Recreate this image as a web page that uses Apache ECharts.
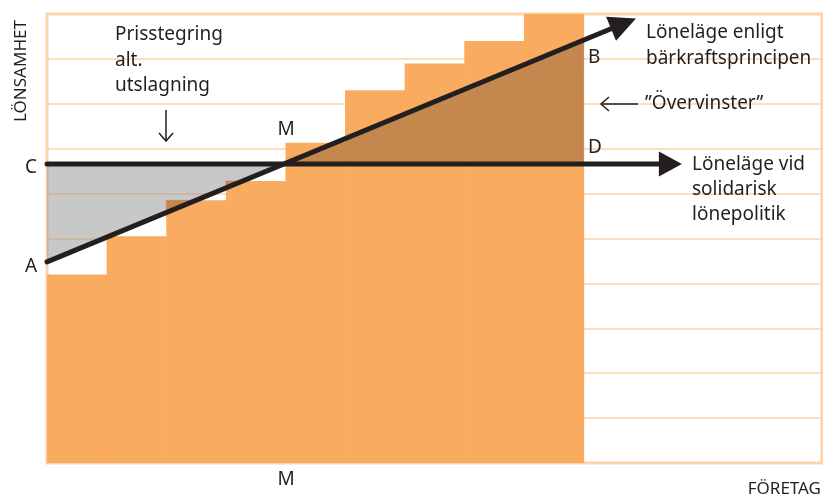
<!DOCTYPE html>
<html>
<head>
<meta charset="utf-8">
<script src="https://cdn.jsdelivr.net/npm/echarts@6/dist/echarts.min.js"></script>
<style>html,body{margin:0;padding:0;background:#fff}#c{width:823px;height:497px}</style>
</head>
<body>
<div id="c"></div>
<script>
// ---- data ----
const companies = [1, 2, 3, 4, 5, 6, 7, 8, 9];
const barHeights = [4.2, 5.05, 5.85, 6.28, 7.13, 8.3, 8.9, 9.4, 10];
const solidarLine = [[0, 6.66], [10.65, 6.66]];     // Löneläge vid solidarisk lönepolitik
const capacityLine = [[0, 4.48], [9.88, 9.9]];      // Löneläge enligt bärkraftsprincipen
const yTicks = [0, 1, 2, 3, 4, 5, 6, 7, 8, 9, 10];

const ORANGE = '#f9ab5f', BROWN = '#c4874e', GRID = '#fdd3aa', INK = '#231f20';
const FONT = 'Noto Sans';

function capAt(x) {
  const [a, b] = capacityLine;
  return a[1] + (b[1] - a[1]) * (x - a[0]) / (b[0] - a[0]);
}
const xM = (solidarLine[0][1] - capacityLine[0][1]) /
  ((capacityLine[1][1] - capacityLine[0][1]) / (capacityLine[1][0] - capacityLine[0][0]));
const lastX = companies.length;
const triangles = [
  [[0, solidarLine[0][1]], [xM, solidarLine[0][1]], [0, capAt(0)]],
  [[xM, solidarLine[0][1]], [lastX, solidarLine[0][1]], [lastX, capAt(lastX)]]
];

function clip(poly, axis, val, keepGreater) {
  const out = [];
  const inside = p => keepGreater ? p[axis] >= val - 1e-9 : p[axis] <= val + 1e-9;
  for (let i = 0; i < poly.length; i++) {
    const a = poly[i], b = poly[(i + 1) % poly.length];
    const ai = inside(a), bi = inside(b);
    if (ai) out.push(a);
    if (ai !== bi) {
      const t = (val - a[axis]) / (b[axis] - a[axis]);
      out.push([a[0] + t * (b[0] - a[0]), a[1] + t * (b[1] - a[1])]);
    }
  }
  return out;
}

const chart = echarts.init(document.getElementById('c'), null, { renderer: 'canvas' });

function arrowLine(api, p0, p1, width, headLen, headHalf) {
  const a = api.coord(p0), b = api.coord(p1);
  const dx = b[0] - a[0], dy = b[1] - a[1];
  const len = Math.sqrt(dx * dx + dy * dy);
  const ux = dx / len, uy = dy / len;
  const bx = b[0] - ux * headLen, by = b[1] - uy * headLen;
  const nx = -uy, ny = ux;
  return [
    { type: 'line', shape: { x1: a[0], y1: a[1], x2: bx + ux * 2, y2: by + uy * 2 },
      style: { stroke: INK, lineWidth: width, lineCap: 'round' } },
    { type: 'polygon', shape: { points: [b, [bx + nx * headHalf, by + ny * headHalf], [bx - nx * headHalf, by - ny * headHalf]] },
      style: { fill: INK } }
  ];
}

const txt = (text, x, y, extra) => Object.assign({
  type: 'text', x: x, y: y, z: 100,
  style: Object.assign({ text: text, fill: INK, font: '19px "' + FONT + '"', textVerticalAlign: 'middle' }, extra || {})
});

const option = {
  animation: false,
  grid: { left: 47, right: 1, top: 14, bottom: 34, show: true, borderColor: GRID, borderWidth: 3, backgroundColor: '#fff' },
  xAxis: { type: 'value', min: 0, max: 13, show: false },
  yAxis: {
    type: 'value', min: yTicks[0], max: yTicks[yTicks.length - 1], interval: 1,
    axisLine: { show: false }, axisTick: { show: false }, axisLabel: { show: false },
    splitLine: { show: true, lineStyle: { color: GRID, width: 1.5 } }
  },
  series: [
    { // grey area between the two wage lines
      type: 'custom', data: [0], z: 2,
      renderItem: (p, api) => ({
        type: 'group',
        children: triangles.map(t => ({ type: 'polygon', shape: { points: t.map(q => api.coord(q)) },
          style: { fill: 'rgba(145,145,145,0.5)' } }))
      })
    },
    { // companies (staircase)
      type: 'custom', z: 3,
      data: barHeights.map((h, i) => [i, h]),
      renderItem: (p, api) => {
        const i = api.value(0), h = api.value(1);
        const a = api.coord([i, h]), b = api.coord([i + 1, 0]);
        return { type: 'rect', shape: { x: a[0], y: a[1], width: b[0] - a[0] + 0.6, height: b[1] - a[1] },
          style: { fill: ORANGE } };
      }
    },
    { // brown: bar area between the two lines
      type: 'custom', z: 4,
      data: barHeights.map((h, i) => [i, h]),
      renderItem: (p, api) => {
        const i = api.value(0), h = api.value(1);
        const children = [];
        triangles.forEach(t => {
          let poly = clip(t, 0, i, true);
          poly = clip(poly, 0, i + 1, false);
          poly = clip(poly, 1, h, false);
          if (poly.length >= 3) children.push({ type: 'polygon', shape: { points: poly.map(q => api.coord(q)) },
            style: { fill: BROWN, stroke: BROWN, lineWidth: 0.5 } });
        });
        return { type: 'group', children: children };
      }
    },
    { // wage lines with arrows
      type: 'custom', z: 5,
      data: [0, 1],
      renderItem: (p, api) => {
        const i = api.value(0);
        const l = i === 0 ? solidarLine : capacityLine;
        const head = i === 0 ? [23, 12.5] : [27, 13];
        return { type: 'group', children: arrowLine(api, l[0], l[1], 5, head[0], head[1]) };
      }
    }
  ],
  graphic: [
    txt('LÖNSAMHET', 21, 122, { textAlign: 'left', font: '17px "' + FONT + '"' }),
    txt('FÖRETAG', 821, 489, { textAlign: 'right', font: '17px "' + FONT + '"' }),
    txt('M', 286, 480, { textAlign: 'center' }),
    txt('M', 286, 130, { textAlign: 'center' }),
    txt('C', 31, 168, { textAlign: 'center' }),
    txt('A', 31, 267, { textAlign: 'center' }),
    txt('B', 588, 58, { textAlign: 'left' }),
    txt('D', 588, 148, { textAlign: 'left' }),
    txt('Prisstegring', 115, 35, { textAlign: 'left' }),
    txt('alt.', 115, 61, { textAlign: 'left' }),
    txt('utslagning', 115, 86, { textAlign: 'left' }),
    txt('Löneläge enligt', 646, 33, { textAlign: 'left' }),
    txt('bärkraftsprincipen', 646, 59, { textAlign: 'left' }),
    txt('”Övervinster”', 645, 104, { textAlign: 'left' }),
    txt('Löneläge vid', 692, 165, { textAlign: 'left' }),
    txt('solidarisk', 692, 190, { textAlign: 'left' }),
    txt('lönepolitik', 692, 215, { textAlign: 'left' }),
    // thin down arrow
    { type: 'polyline', z: 100, shape: { points: [[166, 110], [166, 141]] }, style: { stroke: INK, lineWidth: 1.5, fill: null } },
    { type: 'polyline', z: 100, shape: { points: [[159, 133], [166, 141], [173, 133]] }, style: { stroke: INK, lineWidth: 1.5, fill: null } },
    // thin left arrow
    { type: 'polyline', z: 100, shape: { points: [[601, 104], [638, 104]] }, style: { stroke: INK, lineWidth: 1.5, fill: null } },
    { type: 'polyline', z: 100, shape: { points: [[609, 97], [601, 104], [609, 111]] }, style: { stroke: INK, lineWidth: 1.5, fill: null } }
  ]
};
// rotate the vertical axis title
option.graphic[0].rotation = Math.PI / 2;
chart.setOption(option);
</script>
</body>
</html>
